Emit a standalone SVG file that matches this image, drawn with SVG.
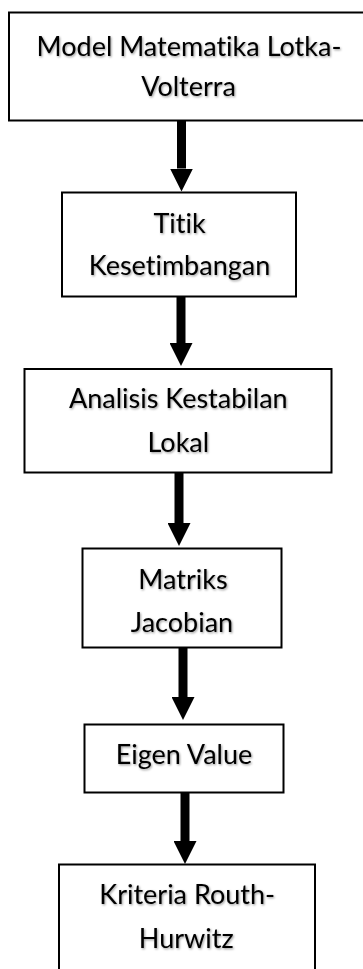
<svg xmlns="http://www.w3.org/2000/svg" width="363" height="969" viewBox="0 0 363 969">
<style>
.box{fill:#fff;stroke:#000;stroke-width:2}
.t{font-family:Lato,"Open Sans","Liberation Sans",sans-serif;font-size:27px;fill:#000;text-anchor:middle;font-variant-ligatures:none;filter:url(#sh)}
.arr{stroke:#000;stroke-width:9;fill:none;marker-end:url(#ah)}
</style>
<defs>
<filter id="sh" x="-10%" y="-30%" width="130%" height="170%">
<feDropShadow dx="1" dy="1.2" stdDeviation="0.8" flood-color="#000" flood-opacity="0.4"/>
</filter>
<marker id="ah" markerUnits="userSpaceOnUse" viewBox="0 -11.5 23 23" refX="0" refY="0" markerWidth="23" markerHeight="23" orient="auto">
<path d="M0,-11.5 L23,0 L0,11.5 z" fill="#000"/>
</marker>
</defs>
<rect width="363" height="969" fill="#fff"/>
<g id="connectors">
<line class="arr" x1="181.5" y1="121" x2="181.5" y2="168.5"/>
<line class="arr" x1="181" y1="297" x2="181" y2="343"/>
<line class="arr" x1="179" y1="473" x2="179" y2="523"/>
<line class="arr" x1="183" y1="648" x2="183" y2="697"/>
<line class="arr" x1="185" y1="793" x2="185" y2="841"/>
</g>
<g id="n1">
<rect class="box" x="9" y="12.5" width="360" height="108"/>
<text class="t" x="189" y="55.5">Model Matematika Lotka-</text>
<text class="t" x="188.5" y="96">Volterra</text>
</g>
<g id="n2">
<rect class="box" x="62" y="192.5" width="234" height="104"/>
<text class="t" x="179.5" y="233">Titik</text>
<text class="t" x="179.5" y="275">Kesetimbangan</text>
</g>
<g id="n3">
<rect class="box" x="24.5" y="369" width="307" height="103.5"/>
<text class="t" x="178.3" y="408">Analisis Kestabilan</text>
<text class="t" x="178.3" y="451.5">Lokal</text>
</g>
<g id="n4">
<rect class="box" x="82.5" y="548.5" width="199" height="99"/>
<text class="t" x="183" y="589">Matriks</text>
<text class="t" x="182" y="631.5">Jacobian</text>
</g>
<g id="n5">
<rect class="box" x="84.5" y="724.5" width="199" height="68"/>
<text class="t" x="184" y="764">Eigen Value</text>
</g>
<g id="n6">
<rect class="box" x="59" y="864.5" width="256" height="120"/>
<text class="t" x="187.2" y="904">Kriteria Routh-</text>
<text class="t" x="186.2" y="948">Hurwitz</text>
</g>
</svg>
